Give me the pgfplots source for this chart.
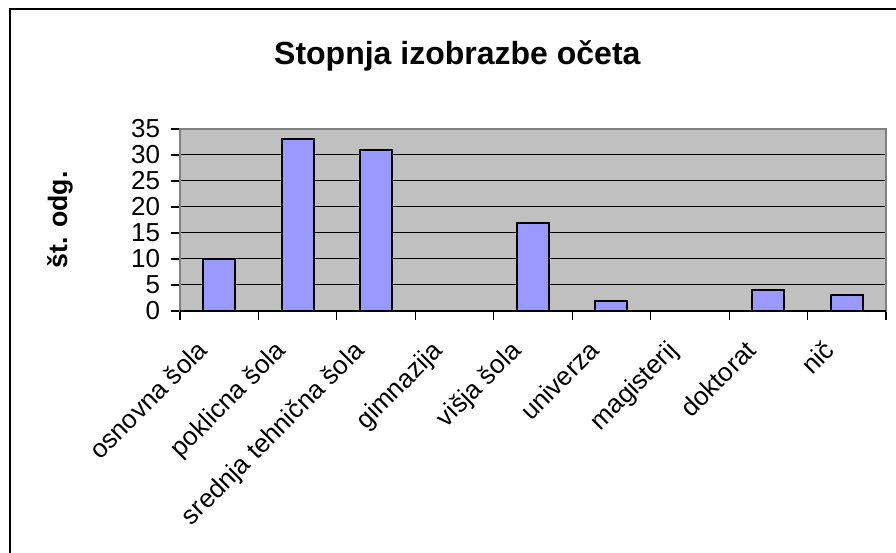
\documentclass[border=0pt]{standalone}
\usepackage{pgfplots}
\pgfplotsset{compat=1.18}
\usepackage{fontspec}
\setmainfont{Liberation Sans}
\definecolor{barblue}{HTML}{9999FF}
\definecolor{plotgray}{HTML}{C0C0C0}
\definecolor{framegray}{HTML}{808080}
\begin{document}
\begin{tikzpicture}
\path[use as bounding box] (0pt,0pt) rectangle (672pt,414.75pt);
\draw[black, line width=1.1pt] (7.5pt,-10pt) -- (7.5pt,408pt) -- (690pt,408pt);
\node[anchor=base, font=\fontsize{24}{24}\selectfont\bfseries, inner sep=0pt] at (343pt,366pt) {Stopnja izobrazbe očeta};
\node[rotate=90, font=\fontsize{20}{20}\selectfont\bfseries, inner sep=0pt] at (45pt,249.75pt) {št. odg.};
\begin{axis}[
  at={(135pt,181.5pt)}, anchor=south west,
  scale only axis, width=529.5pt, height=136.5pt,
  xmin=-0.5, xmax=8.5, ymin=0, ymax=35,
  axis background/.style={fill=plotgray},
  axis line style={draw=framegray, line width=1.2pt},
  ybar, bar width=24pt,
  ytick={0,5,...,35},
  xtick={0,...,8},
  xticklabels={osnovna šola, poklicna šola, srednja tehnična šola, gimnazija, višja šola, univerza, magisterij, doktorat, nič},
  minor xtick={-0.5,0.5,...,8.5},
  tick pos=left,
  tick align=outside,
  major tick length=6.75pt, minor tick length=6.75pt,
  every tick/.style={black, line width=0.8pt},
  every major x tick/.append style={draw=none},
  ymajorgrids, major grid style={black, line width=0.75pt},
  /pgf/number format/assume math mode=true,
  tick label style={font=\fontsize{19.5}{19.5}\selectfont},
  yticklabel style={inner sep=0pt, xshift=-8pt},
  xticklabel style={inner sep=0pt, anchor=north east, xshift=-18pt, yshift=-14pt, rotate=45},
  clip=false,
]
\addplot[draw=black, line width=1.5pt, fill=barblue] coordinates {(0,10) (1,33) (2,31) (4,17) (5,2) (7,4) (8,3)};
\draw[black, line width=1.2pt] (rel axis cs:0,0) -- (rel axis cs:1,0);
\end{axis}
\end{tikzpicture}
\end{document}
